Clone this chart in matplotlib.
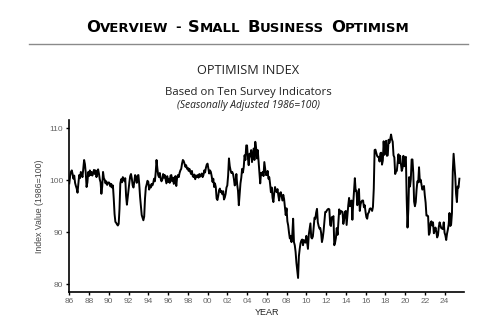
import matplotlib
matplotlib.use("Agg")
import matplotlib.pyplot as plt
import numpy as np

# NFIB optimism index, monthly, Jan 1986 .. Jul 2025
values = [
    99.4, 100.8, 101.6, 101.9, 101.2, 100.3, 100.9, 99.5, 98.9, 98.4, 97.6, 99.2,   # 1986
    101.0, 100.4, 101.6, 101.2, 100.6, 102.3, 103.9, 103.1, 101.4, 98.7, 99.6, 101.6,  # 1987
    100.8, 101.9, 101.0, 101.6, 100.9, 101.4, 102.0, 101.2, 101.9, 100.6, 101.3, 102.1,  # 1988
    101.3, 100.2, 99.6, 97.4, 98.8, 101.6, 100.4, 100.1, 99.4, 99.8, 99.1, 99.4,  # 1989
    99.6, 99.4, 98.8, 99.3, 98.6, 99.0, 96.5, 93.5, 92.0, 91.8, 91.5, 91.3,  # 1990
    91.6, 94.5, 99.4, 100.2, 99.6, 100.6, 100.3, 99.8, 100.4, 97.0, 95.3, 96.8,  # 1991
    98.4, 99.6, 100.8, 101.2, 100.3, 99.0, 98.6, 99.7, 101.0, 100.4, 99.5, 100.9,  # 1992
    101.0, 99.2, 96.8, 95.0, 93.3, 92.8, 92.3, 93.0, 96.5, 98.6, 99.2, 99.9,  # 1993
    99.7, 98.2, 99.0, 98.6, 99.3, 99.0, 99.5, 100.3, 99.8, 101.5, 103.9, 102.3,  # 1994
    101.0, 100.6, 101.4, 100.3, 99.8, 100.1, 101.2, 100.5, 101.0, 100.2, 99.4, 100.8,  # 1995
    99.7, 100.3, 99.5, 100.9, 101.0, 99.8, 100.5, 99.3, 99.7, 100.8, 98.9, 100.5,  # 1996
    101.0, 100.6, 101.4, 101.9, 102.2, 103.2, 103.9, 103.7, 103.2, 102.6, 102.9, 102.2,  # 1997
    102.4, 101.8, 102.2, 101.6, 101.2, 101.8, 100.8, 100.6, 101.1, 100.2, 100.9, 100.6,  # 1998
    101.0, 100.5, 101.2, 100.7, 101.0, 101.3, 100.6, 101.0, 101.9, 101.5, 102.4, 103.0,  # 1999
    103.2, 102.3, 101.3, 101.9, 101.6, 100.8, 99.7, 100.3, 98.7, 99.4, 98.7, 96.5,  # 2000
    96.2, 97.0, 98.1, 98.4, 97.7, 97.9, 97.3, 97.9, 96.3, 96.7, 97.4, 98.6,  # 2001
    99.0, 100.9, 104.2, 102.7, 101.9, 101.4, 101.6, 101.2, 100.3, 99.0, 99.4, 101.2,  # 2002
    99.2, 98.0, 95.2, 97.2, 99.4, 100.5, 102.2, 101.5, 102.6, 104.8, 103.9, 106.7,  # 2003
    106.7, 104.3, 102.9, 105.1, 104.6, 105.8, 103.5, 104.8, 106.1, 103.9, 107.4, 106.2,  # 2004
    104.2, 105.8, 103.6, 101.3, 99.4, 101.4, 101.0, 101.6, 100.8, 103.5, 102.2, 101.0,  # 2005
    101.0, 101.8, 100.3, 100.6, 99.3, 97.7, 98.6, 96.6, 95.8, 97.5, 98.7, 98.0,  # 2006
    97.7, 98.3, 97.1, 96.1, 97.5, 97.7, 96.9, 96.1, 97.2, 96.4, 94.8, 93.3,  # 2007
    94.6, 92.1, 91.3, 89.9, 88.8, 89.3, 88.1, 89.6, 92.6, 88.1, 87.5, 86.2,  # 2008
    84.1, 82.6, 81.2, 85.4, 86.8, 87.9, 88.4, 88.6, 87.5, 88.5, 88.1, 88.0,  # 2009
    89.3, 88.0, 86.8, 89.5, 90.6, 91.7, 89.0, 88.8, 89.2, 90.9, 92.8, 92.6,  # 2010
    93.8, 94.5, 91.9, 91.2, 90.7, 90.8, 89.9, 88.1, 88.9, 90.2, 92.0, 93.9,  # 2011
    93.9, 94.2, 94.4, 94.5, 94.4, 91.4, 91.2, 92.9, 92.8, 93.1, 87.5, 88.0,  # 2012
    88.9, 90.8, 89.5, 92.1, 94.4, 93.5, 94.1, 94.0, 93.9, 91.6, 92.5, 93.9,  # 2013
    94.1, 91.4, 93.4, 95.2, 96.6, 95.0, 95.7, 96.1, 92.4, 95.5, 98.1, 100.4,  # 2014
    97.9, 98.0, 95.2, 96.9, 98.3, 94.1, 95.4, 95.9, 96.1, 96.1, 94.8, 95.2,  # 2015
    93.9, 92.9, 92.6, 93.6, 93.8, 94.5, 94.6, 94.4, 94.1, 94.9, 98.4, 105.8,  # 2016
    105.9, 105.3, 104.7, 104.5, 104.5, 103.6, 105.2, 105.3, 103.0, 103.8, 107.5, 104.9,  # 2017
    106.9, 107.6, 104.7, 104.8, 107.8, 107.2, 107.9, 108.8, 107.9, 107.4, 104.8, 104.4,  # 2018
    101.2, 101.7, 101.8, 103.5, 105.0, 103.3, 104.7, 103.1, 101.8, 102.4, 104.7, 102.7,  # 2019
    104.3, 104.5, 96.4, 90.9, 94.4, 100.6, 98.8, 100.2, 104.0, 104.0, 101.4, 95.9,  # 2020
    95.0, 95.8, 98.2, 99.8, 99.6, 102.5, 99.7, 100.1, 99.1, 98.2, 98.4, 98.9,  # 2021
    97.1, 95.7, 93.2, 93.2, 93.1, 89.5, 89.9, 91.8, 92.1, 91.3, 91.9, 89.8,  # 2022
    90.3, 90.9, 90.1, 89.0, 89.4, 91.0, 91.9, 91.3, 90.8, 90.7, 90.6, 91.9,  # 2023
    89.9, 89.4, 88.5, 89.7, 90.5, 91.5, 93.7, 91.2, 91.5, 93.7, 101.7, 105.1,  # 2024
    102.8, 100.7, 97.4, 95.8, 98.8, 98.6, 100.3,  # 2025
]
x_ticks = list(range(1986, 2026, 2))
x_labels = ["%02d" % (y % 100) for y in x_ticks]
y_ticks = [80, 90, 100, 110]

dates = 1986 + np.arange(len(values)) / 12.0

fig = plt.figure(figsize=(5, 3.26), dpi=100)
ax = fig.add_axes([0.1386, 0.1043, 0.79, 0.5277])

ax.plot(dates, values, color="black", linewidth=1.4)
ax.set_xlim(1986, 2026)
ax.set_ylim(78.5, 111.6)
ax.set_xticks(x_ticks)
ax.set_xticklabels(x_labels)
ax.set_yticks(y_ticks)

for s in ["top", "right"]:
    ax.spines[s].set_visible(False)
for s in ["left", "bottom"]:
    ax.spines[s].set_linewidth(1.2)
ax.tick_params(length=2.2, width=1, pad=2, labelsize=6.0, labelcolor="#666666",
               color="black")
for t in ax.get_xticklabels() + ax.get_yticklabels():
    t.set_fontfamily("Liberation Sans")

ax.set_xlabel("YEAR", fontsize=6.5, family="Liberation Sans", color="#222222", labelpad=2)
ax.set_ylabel("Index Value (1986=100)", fontsize=6.3, family="Liberation Sans",
              color="#444444", labelpad=4)

# subtitles
fig.text(0.496, 1 - 70 / 326, "OPTIMISM INDEX", ha="center", va="center",
         family="Open Sans", fontsize=9.2, color="#222222")
fig.text(0.496, 1 - 92.5 / 326, "Based on Ten Survey Indicators", ha="center", va="center",
         family="Open Sans", fontsize=8.2, color="#222222")
fig.text(0.496, 1 - 105.5 / 326, "(Seasonally Adjusted 1986=100)", ha="center", va="center",
         family="Open Sans", style="italic", fontsize=7.4, color="#222222")

# grey rule under the heading
fig.add_artist(plt.Line2D([29.3 / 500, 467.7 / 500], [1 - 44 / 326, 1 - 44 / 326],
                          color="#8a8a8a", linewidth=1.0))

# small-caps heading, built piece by piece
title = "OVERVIEW - SMALL BUSINESS OPTIMISM"
big, small = 11.8, 9.5
renderer = fig.canvas.get_renderer()
pieces = []
for word in title.split():
    if word.isalpha():
        pieces.append([(word[0], big), (word[1:], small)])
    else:
        pieces.append([(word, small)])
gap = 7
texts = []
total = 0
for i, word in enumerate(pieces):
    for s, size in word:
        t = fig.text(0, 0, s, fontsize=size, family="DejaVu Sans", weight="bold",
                     ha="left", va="baseline", color="black", transform=None)
        w = t.get_window_extent(renderer).width
        texts.append((t, w))
        total += w
    if i < len(pieces) - 1:
        texts.append((None, gap))
        total += gap
x0 = 248 - total / 2
base = 326 - 31.5
for t, w in texts:
    if t is not None:
        t.set_position((x0, base))
    x0 += w

fig.savefig("out.png", dpi=100)
